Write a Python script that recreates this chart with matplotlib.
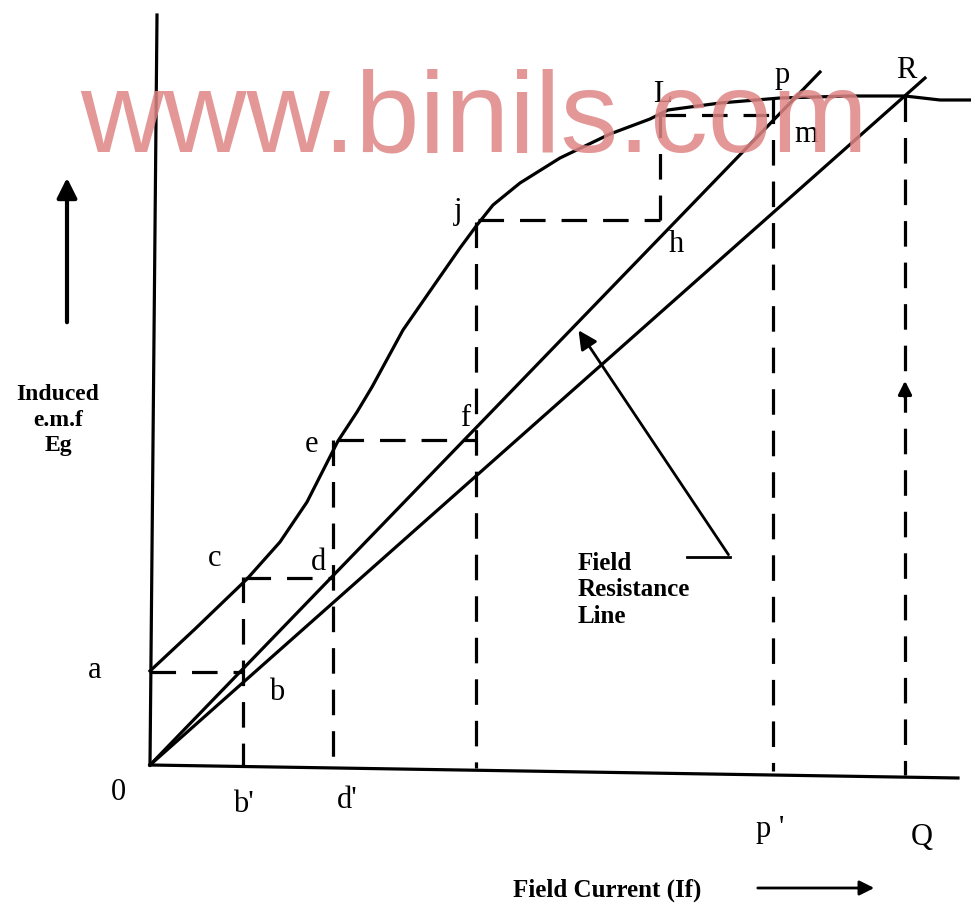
import matplotlib.pyplot as plt

# open circuit characteristic (pixel coords)
occ_x = [150, 195, 247, 280, 307, 338, 357, 372, 403, 437, 460, 477, 493, 520, 560, 610, 650, 668, 720, 780, 850, 905, 940, 971]
occ_y = [671, 629, 579, 542, 502, 441, 412, 387, 330, 281, 248, 225, 205, 183, 158, 134, 119, 110, 103, 98, 96, 96, 100, 100]

# field resistance lines (start, end)
line1_x = [150, 820]
line1_y = [765, 72]
line2_x = [150, 925]
line2_y = [765, 78]

# dashed construction lines
vert_x = [243, 333, 476, 660, 773, 905]
vert_top = [577, 440, 222, 112, 98, 96]
vert_bot = [765, 767, 768, 220, 771, 775]
horiz_y = [672, 578, 440, 220, 115]
horiz_x0 = [150, 245, 338, 478, 660]
horiz_x1 = [243, 333, 476, 660, 773]

# point labels
lbl_text = ['0', 'a', 'b', 'c', 'd', 'e', 'f', 'j', 'h', 'L', 'p', 'm', 'R', "b'", "d'", "p '", 'Q']
lbl_x = [118, 95, 277, 215, 318, 312, 465, 458, 676, 662, 782, 806, 906, 243, 347, 770, 922]
lbl_y = [792, 670, 692, 558, 563, 445, 418, 212, 245, 95, 75, 135, 70, 805, 800, 830, 838]

fig = plt.figure(figsize=(9.71, 9.07), dpi=100)
ax = fig.add_axes([0, 0, 1, 1])
ax.set_xlim(0, 971)
ax.set_ylim(907, 0)
ax.axis('off')

lw = 2.3
# axes
ax.plot([157, 150], [15, 765], color='black', lw=lw)
ax.plot([150, 958], [765, 778], color='black', lw=lw)

ax.plot(occ_x, occ_y, color='black', lw=lw, solid_joinstyle='round')
ax.plot(line1_x, line1_y, color='black', lw=lw)
ax.plot(line2_x, line2_y, color='black', lw=lw)

dash = (0, (8, 5))
for x, t, b in zip(vert_x, vert_top, vert_bot):
    ax.plot([x, x], [t, b], color='black', lw=lw, linestyle=dash)
for y, x0, x1 in zip(horiz_y, horiz_x0, horiz_x1):
    ax.plot([x0, x1], [y, y], color='black', lw=lw, linestyle=dash)

# small arrow on the Q line
ax.annotate('', xy=(905, 378), xytext=(905, 400),
            arrowprops=dict(arrowstyle='-|>', color='black', lw=lw, mutation_scale=20))

# pointer to field resistance line
ax.plot([687, 730], [557, 557], color='black', lw=2)
ax.annotate('', xy=(577, 328), xytext=(730, 557),
            arrowprops=dict(arrowstyle='-|>', color='black', lw=2, mutation_scale=28))

serif = 'Liberation Serif'
for t, x, y in zip(lbl_text, lbl_x, lbl_y):
    ax.text(x, y, t, fontsize=22, family=serif, ha='center', va='center')

ax.text(578, 590, 'Field\nResistance\nLine', fontsize=18, family=serif, weight='bold',
        ha='left', va='center', linespacing=1.2)
ax.text(58, 420, 'Induced\ne.m.f\nEg', fontsize=17, family=serif, weight='bold',
        ha='center', va='center', linespacing=1.3)
ax.annotate('', xy=(67, 175), xytext=(67, 325),
            arrowprops=dict(arrowstyle='-|>', color='black', lw=3, mutation_scale=30))
ax.text(607, 890, 'Field Current (If)', fontsize=18, family=serif, weight='bold',
        ha='center', va='center')
ax.annotate('', xy=(877, 888), xytext=(755, 888),
            arrowprops=dict(arrowstyle='-|>', color='black', lw=2, mutation_scale=22))

# watermark
ax.text(474, 122, 'www.binils.com', fontsize=83, family='Liberation Sans',
        color='#df8585', alpha=0.85, ha='center', va='center')

fig.savefig('out.png', dpi=100)
